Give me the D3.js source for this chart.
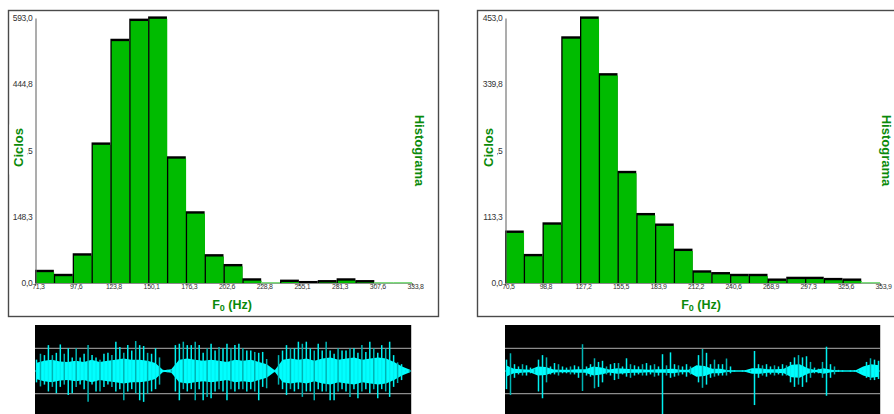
<!DOCTYPE html>
<html><head><meta charset="utf-8">
<script src="https://cdn.jsdelivr.net/npm/d3@7/dist/d3.min.js"></script>
<style>html,body{margin:0;padding:0;background:#fff;overflow:hidden}svg{display:block}</style>
</head><body>
<svg id="c" width="894" height="414"></svg>
<script>
// ---------- DATA ----------
const leftCounts  = [26,17,63,311,543,588,593,280,157,61,39,7,0,4,1,3,7,3,0,0];
const leftTicksX  = ["71,3","97,6","123,8","150,1","176,3","202,6","228,8","255,1","281,3","307,6","333,8"];
const leftTicksY  = ["0,0","148,3","296,5","444,8","593,0"];
const rightCounts = [87,47,101,419,453,356,189,117,99,56,19,16,13,13,5,8,8,6,5,0];
const rightTicksX = ["70,5","98,8","127,2","155,5","183,9","212,2","240,6","268,9","297,3","325,6","353,9"];
const rightTicksY = ["0,0","113,3","226,5","339,8","453,0"];
const yLabel = "Ciclos", sideLabel = "Histograma", xLabelMain = "F", xLabelSub = "0", xLabelUnit = " (Hz)";

// waveform peaks (upper / lower amplitude per column, gray reference line = 1)
const waveLUp   = [0.5,0.76,0.7,1.14,0.7,0.8,1.17,0.76,1.0,0.6,1.0,0.6,0.76,1.14,0.7,0.6,0.5,0.76,0.8,0.7,1.29,1.06,0.8,1.14,0.9,1.32,1.14,1.1,0.8,0.76,1.0,0.6,
                   0.05,0.05,0.06,1.14,1.2,1.29,1.14,1.14,1.29,1.14,0.8,1.0,1.2,0.9,1.06,1.0,1.2,1.0,1.14,1.2,1.0,0.9,0.9,0.84,0.8,0.84,0.53,0.05,0.05,0.7,0.9,
                   1.14,1.0,1.0,1.29,1.2,1.29,1.0,0.9,1.2,0.9,1.29,0.9,0.76,1.0,0.9,0.9,1.0,1.0,0.8,1.14,0.84,1.29,1.0,0.8,1.14,1.0,1.29,0.7,0.38,0.3,0.05,0.05];
const waveLDown = [0.5,0.68,0.6,0.9,0.7,0.98,0.7,0.6,1.06,0.98,0.7,0.6,0.8,1.36,0.6,0.9,0.9,0.7,0.6,0.7,0.9,0.8,1.29,0.9,0.8,0.98,1.29,1.36,1.0,0.9,0.8,0.6,
                   0.05,0.05,0.06,0.9,1.29,0.8,0.9,0.8,1.29,0.8,1.29,1.14,1.2,0.9,0.8,0.9,1.29,0.8,0.9,0.8,0.8,0.9,0.8,0.9,1.29,0.7,0.76,0.05,0.05,0.6,0.8,
                   1.06,0.8,0.9,0.8,1.14,0.9,0.9,1.29,0.8,0.9,0.9,1.29,1.29,0.9,0.8,0.9,1.14,0.8,1.2,0.9,0.8,0.98,0.8,1.2,0.8,0.9,1.14,0.7,0.53,0.4,0.05,0.05];
const waveLCore = [0.35,0.45,0.5,0.42,0.4,0.45,0.4,0.5,0.4,0.45,0.5,0.55,0.5,0.5,0.45,0.35,0.03,0.08,0.5,0.55,0.5,0.45,0.5,0.45,0.4,0.5,0.45,0.5,0.4,0.3,0.03,
                   0.5,0.55,0.5,0.55,0.45,0.55,0.6,0.5,0.55,0.6,0.5,0.55,0.6,0.55,0.4,0.2,0.05];
const waveRUp   = [0.5,0.78,0.3,0.2,0.3,0.25,0.15,0.1,0.5,0.7,0.6,0.2,0.35,0.3,0.2,0.15,0.2,0.25,0.2,1.18,0.2,0.3,0.56,0.4,0.45,0.2,0.3,0.35,0.35,0.2,0.56,0.3,
                   0.25,0.2,0.3,0.35,0.25,0.3,0.2,0.74,0.25,0.82,0.3,0.25,0.2,0.3,0.2,0.15,0.7,0.97,0.8,0.3,0.5,0.3,0.3,0.55,0.2,0.03,0.04,0.03,0.04,0.05,0.88,
                   0.3,0.25,0.3,0.2,0.25,0.2,0.3,0.25,0.4,0.6,0.7,0.6,0.65,0.4,0.15,0.1,0.4,1.07,0.3,0.2,0.05,0.03,0.04,0.03,0.04,0.03,0.05,0.4,0.56,0.5,0.45];
const waveRDown = [0.8,1.06,0.3,0.15,0.2,0.2,0.1,0.1,0.9,1.2,0.5,0.15,0.15,0.2,0.1,0.1,0.15,0.15,0.3,0.88,0.2,0.25,0.76,0.7,0.5,0.15,0.2,0.4,0.35,0.15,0.25,0.3,
                   0.2,0.15,0.2,0.2,0.15,0.25,0.2,1.9,0.2,0.3,0.25,0.2,0.15,0.25,0.15,0.1,0.5,0.74,0.6,0.3,0.25,0.2,0.2,0.2,0.1,0.03,0.03,0.03,0.03,0.05,1.5,
                   0.3,0.2,0.25,0.15,0.2,0.15,0.2,0.2,0.5,0.7,0.6,0.7,0.5,0.3,0.1,0.1,0.3,1.09,0.3,0.15,0.04,0.03,0.03,0.03,0.03,0.03,0.05,0.3,0.4,0.4,0.35];
const waveRCore = [0.25,0.1,0.08,0.05,0.2,0.18,0.07,0.06,0.06,0.08,0.08,0.2,0.15,0.07,0.12,0.1,0.08,0.08,0.06,0.08,0.08,0.1,0.06,0.06,0.25,0.22,0.1,0.1,0.03,0.02,
                   0.02,0.12,0.12,0.08,0.08,0.1,0.28,0.3,0.12,0.04,0.12,0.06,0.02,0.02,0.02,0.2,0.3,0.25];

// ---------- LAYOUT ----------
const svg = d3.select("#c");
const FONT = "'Liberation Sans', Arial, sans-serif";
const GREEN_TXT = "#0a8a0a", BAR = "#00bb00";

const panels = [
  {counts:leftCounts, tx:leftTicksX, ty:leftTicksY, frame:[8,10,430,306], x0:35, x1:412, yTop:18, yBase:283,
   yLblX:18.5, sideX:419.5, xLblX:232, maskX:9.5,
   wave:{x0:35, x1:411, up:waveLUp, down:waveLDown, core:waveLCore}},
  {counts:rightCounts, tx:rightTicksX, ty:rightTicksY, frame:[477,10,430,306], x0:505, x1:880, yTop:18, yBase:283,
   yLblX:488, sideX:886.5, xLblX:701, maskX:479,
   wave:{x0:505, x1:880, up:waveRUp, down:waveRDown, core:waveRCore}}
];

panels.forEach(p => {
  const g = svg.append("g");
  g.append("rect").attr("x",p.frame[0]+0.5).attr("y",p.frame[1]+0.5).attr("width",p.frame[2]).attr("height",p.frame[3])
    .attr("fill","#fff").attr("stroke","#4a4a4a").attr("stroke-width",1.4);

  const tickVals = p.ty.map(s => +s.replace(",", "."));
  const yMax = d3.max(tickVals);
  const y = d3.scaleLinear().domain([0, yMax]).range([p.yBase, p.yTop]);
  const nb = p.counts.length;
  const x = d3.scaleLinear().domain([0, nb]).range([p.x0, p.x1]);
  const bw = x(1) - x(0);

  const xAxis = d3.axisBottom(x).tickValues(d3.range(0, nb+1, 2)).tickSize(3).tickFormat((d,i)=>p.tx[i]);
  const ax = g.append("g").attr("transform",`translate(0,${p.yBase})`).call(xAxis);
  ax.select(".domain").attr("stroke","#8a8a8a").attr("stroke-width",1.2);
  ax.selectAll(".tick line").attr("stroke","#8a8a8a");
  ax.selectAll(".tick text").attr("font-family",FONT).attr("font-size",7).attr("fill","#333")
    .attr("dx",3).attr("dy",-0.5).attr("letter-spacing",-0.3);

  const bars = g.append("g");
  p.counts.forEach((v,i) => {
    const bx = x(i);
    if (v <= 0) {
      bars.append("rect").attr("x",bx).attr("y",p.yBase-1).attr("width",bw).attr("height",1.5).attr("fill","#7ddc7d");
      return;
    }
    const ty = y(v);
    bars.append("rect").attr("x",bx).attr("y",ty-1.6).attr("width",bw).attr("height",p.yBase-ty+1.6).attr("fill","#000");
    bars.append("rect").attr("x",bx+1.3).attr("y",ty+0.8).attr("width",bw-1.0).attr("height",Math.max(0,p.yBase-ty-0.8)).attr("fill",BAR);
  });

  const yAxis = d3.axisLeft(y).tickValues(tickVals).tickSize(0).tickPadding(3).tickFormat((d,i)=>p.ty[i]);
  const ay = g.append("g").attr("transform",`translate(${p.x0+0.5},0)`).call(yAxis);
  ay.select(".domain").attr("stroke","#6a6a6a").attr("stroke-width",1.1);
  ay.selectAll(".tick text").attr("font-family",FONT).attr("font-size",8.5).attr("fill","#333").attr("letter-spacing",-0.3);

  const cy = (p.yTop + p.yBase)/2;
  g.append("rect").attr("x",p.maskX).attr("y",cy-26).attr("width",18).attr("height",50).attr("fill","#fff");
  g.append("text").attr("transform",`translate(${p.yLblX},${cy-3}) rotate(-90)`)
    .attr("text-anchor","middle").attr("dominant-baseline","central")
    .attr("font-family",FONT).attr("font-weight","bold").attr("font-size",13).attr("fill",GREEN_TXT).text(yLabel);
  g.append("text").attr("transform",`translate(${p.sideX},${cy}) rotate(90)`)
    .attr("text-anchor","middle").attr("dominant-baseline","central")
    .attr("font-family",FONT).attr("font-weight","bold").attr("font-size",13).attr("fill",GREEN_TXT).text(sideLabel);
  const xl = g.append("text").attr("x",p.xLblX).attr("y",309).attr("text-anchor","middle")
    .attr("font-family",FONT).attr("font-weight","bold").attr("font-size",12.5).attr("fill",GREEN_TXT);
  xl.append("tspan").text(xLabelMain);
  xl.append("tspan").attr("font-size",9).attr("dy",1.5).text(xLabelSub);
  xl.append("tspan").attr("dy",-1.5).text(xLabelUnit);

  // waveform
  const w = p.wave;
  const wg = svg.append("g");
  wg.append("rect").attr("x",w.x0).attr("y",325).attr("width",w.x1-w.x0).attr("height",100).attr("fill","#000");
  wg.append("line").attr("x1",w.x1+0.5).attr("x2",w.x1+0.5).attr("y1",325).attr("y2",414).attr("stroke","#c8c8c8");
  const cyW = 371, unit = 22.7;
  const ya = d3.scaleLinear().domain([-1,1]).range([cyW+unit, cyW-unit]);
  [-1,1].forEach(v => wg.append("line").attr("x1",w.x0).attr("x2",w.x1).attr("y1",ya(v)).attr("y2",ya(v))
      .attr("stroke","#8c8c8c").attr("stroke-width",1.2));
  wg.append("line").attr("x1",w.x0).attr("x2",w.x1).attr("y1",cyW).attr("y2",cyW).attr("stroke","#00e0e0").attr("stroke-width",1);
  const xc = d3.scaleLinear().domain([0, w.core.length-1]).range([w.x0+1, w.x1-1]);
  wg.append("path").datum(w.core)
    .attr("d", d3.area().x((d,i)=>xc(i)).y0(d=>ya(-d)).y1(d=>ya(d)))
    .attr("fill","#00ffff");
  const xs = d3.scaleLinear().domain([0, w.up.length-1]).range([w.x0+1.5, w.x1-1.5]);
  wg.selectAll("line.sp").data(w.up).enter().append("line").attr("class","sp")
    .attr("x1",(d,i)=>xs(i)).attr("x2",(d,i)=>xs(i))
    .attr("y1",d=>ya(d)).attr("y2",(d,i)=>ya(-w.down[i]))
    .attr("stroke",(d,i)=> i%3===1 ? "#00b4b4" : "#00f0f0").attr("stroke-width",1.5);
});
</script>
</body></html>
